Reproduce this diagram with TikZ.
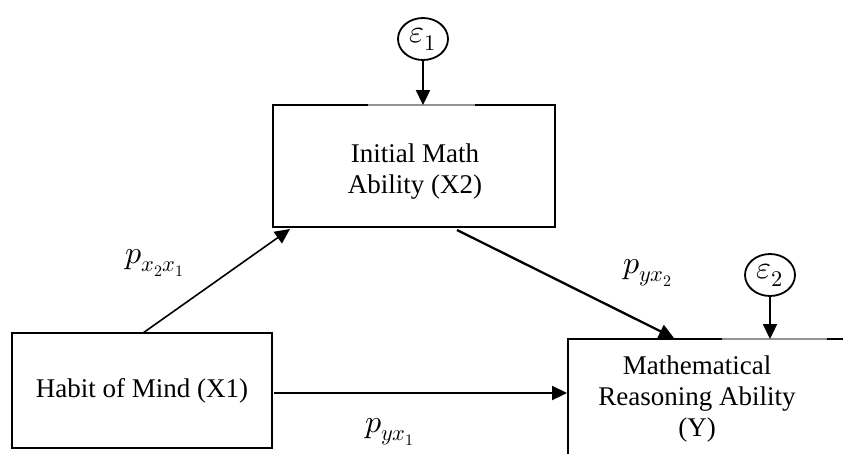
\documentclass[tikz,border=0pt]{standalone}
\usepackage{fontspec}
\usepackage{unicode-math}
\setmainfont{Liberation Serif}
\usetikzlibrary{arrows.meta,shapes.geometric}
\begin{document}
\begin{tikzpicture}[x=1pt,y=-1pt,
  box/.style={draw=black, line width=2pt, inner sep=0pt},
  lbl/.style={align=center, font=\fontsize{27}{31}\selectfont},
  errnode/.style={draw=black, line width=1.8pt, ellipse, minimum width=50pt, minimum height=42pt, inner sep=0pt, font=\fontsize{32}{36}\selectfont},
  conn/.style={line width=2.3pt, -{Triangle[length=15pt,width=14pt]}},
  plab/.style={font=\fontsize{32}{36}\selectfont}]
\useasboundingbox (0,0) rectangle (843,453);
\clip (0,0) rectangle (843,453);
\fill[white] (0,0) rectangle (843,453);
% boxes
\node[box, minimum width=260pt, minimum height=115pt] (X1) at (142,390.5) {};
\node[lbl] at (142,391) {Habit of Mind (X1)};
\node[box, minimum width=282pt, minimum height=122pt] (X2) at (414,166) {};
\node[lbl] at (415,172) {Initial Math\\Ability (X2)};
\node[box, minimum width=312pt, minimum height=124pt] (Y) at (724,401) {};
\node[lbl] at (697,399) {Mathematical\\Reasoning Ability\\(Y)};
% gray segments on box tops
\draw[gray!85, line width=2pt] (368,105) -- (475,105);
\draw[gray!85, line width=2pt] (722,339) -- (827,339);
% error terms
\node[errnode] (e1) at (423,39) {$\varepsilon_1$};
\node[errnode] (e2) at (770,275) {$\varepsilon_2$};
% connectors
\coordinate (e1b) at (423,105);
\coordinate (e2b) at (770,339);
\draw[conn] (e1.south) -- (e1b);
\draw[conn] (e2.south) -- (e2b);
\coordinate (a1s) at (143,333);
\coordinate (a1e) at (290,229);
\draw[line width=1.6pt, -{Triangle[length=15pt,width=14pt]}] (a1s) -- (a1e);
\coordinate (a2s) at (457,230);
\coordinate (a2e) at (674,338);
\draw[conn] (a2s) -- (a2e);
\coordinate (a3s) at (274,393);
\coordinate (a3e) at (Y.west |- a3s);
\draw[conn] (a3s) -- (a3e);
% labels
\node[plab] at (155,263) {$p_{x_2x_1}$};
\node[plab] at (648,273) {$p_{yx_2}$};
\node[plab] at (390,432) {$p_{yx_1}$};
\end{tikzpicture}
\end{document}
